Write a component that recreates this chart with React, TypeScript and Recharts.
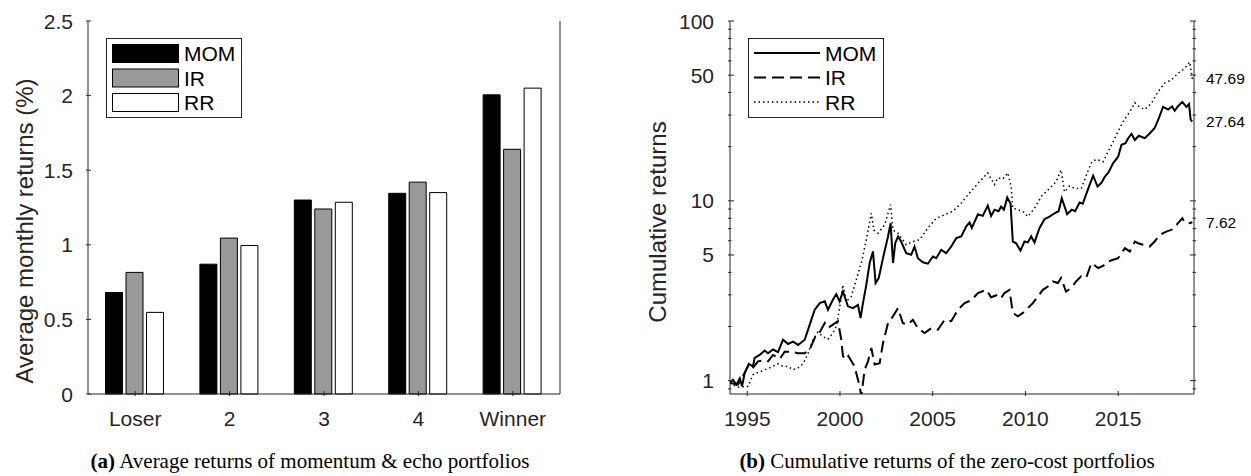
import React from 'react'
import { BarChart, Bar, LineChart, Line, XAxis, YAxis, Legend, Label } from 'recharts'

// panel (a): average monthly returns (%)
const categories = ['Loser', '2', '3', '4', 'Winner']
const momBars = [0.68, 0.87, 1.3, 1.345, 2.005]
const irBars = [0.815, 1.045, 1.24, 1.42, 1.64]
const rrBars = [0.547, 0.995, 1.285, 1.35, 2.05]
const barTicks = [0, 0.5, 1, 1.5, 2, 2.5]
const seriesOrder = ['MOM', 'IR', 'RR']

// panel (b): cumulative returns, [year, value]
const momPath: [number, number][] = [
  [1994.06, 0.97], [1994.23, 1.01], [1994.41, 0.95], [1994.6, 1.03], [1994.72, 0.93], [1994.86, 1.1],
  [1995.08, 1.24], [1995.31, 1.2], [1995.4, 1.34], [1995.67, 1.39], [1995.94, 1.47], [1996.12, 1.42],
  [1996.39, 1.49], [1996.66, 1.44], [1996.93, 1.69], [1997.2, 1.6], [1997.47, 1.65], [1997.74, 1.58],
  [1998.1, 1.69], [1998.37, 2.05], [1998.64, 2.48], [1998.91, 2.7], [1999.18, 2.76], [1999.35, 2.48],
  [1999.62, 2.82], [1999.8, 3.03], [1999.98, 2.76], [2000.16, 3.13], [2000.43, 2.59], [2000.7, 2.53],
  [2000.97, 2.64], [2001.11, 2.23], [2001.24, 2.7], [2001.42, 3.41], [2001.6, 4.51], [2001.78, 5.23],
  [2001.92, 3.49], [2002.09, 3.72], [2002.32, 4.8], [2002.59, 6.34], [2002.73, 7.51], [2002.86, 4.51],
  [2002.98, 5.81], [2003.13, 6.34], [2003.3, 5.94], [2003.57, 5.12], [2003.84, 5.01], [2004.02, 5.57],
  [2004.2, 4.8], [2004.47, 4.55], [2004.74, 4.47], [2005.01, 4.9], [2005.19, 4.8], [2005.46, 5.34],
  [2005.73, 5.12], [2006.0, 5.57], [2006.27, 6.2], [2006.54, 6.34], [2006.81, 7.21], [2006.99, 7.58],
  [2007.11, 7.06], [2007.44, 8.42], [2007.7, 8.25], [2007.97, 9.41], [2008.15, 8.25], [2008.33, 8.93],
  [2008.55, 8.75], [2008.69, 9.3], [2008.84, 8.93], [2009.02, 10.45], [2009.2, 9.63], [2009.32, 5.94],
  [2009.5, 5.81], [2009.73, 5.29], [2009.95, 5.94], [2010.13, 5.87], [2010.31, 6.34], [2010.49, 5.87],
  [2010.76, 7.06], [2011.03, 7.91], [2011.3, 8.17], [2011.57, 8.53], [2011.79, 8.75], [2011.96, 10.33],
  [2012.25, 8.44], [2012.5, 8.93], [2012.68, 8.75], [2012.92, 9.79], [2013.09, 9.63], [2013.36, 11.5],
  [2013.65, 13.8], [2013.89, 12.0], [2014.1, 12.6], [2014.28, 13.6], [2014.5, 14.5], [2014.73, 16.2],
  [2015.0, 17.6], [2015.18, 20.5], [2015.4, 20.9], [2015.54, 22.3], [2015.72, 23.6], [2015.9, 21.8],
  [2016.11, 23.0], [2016.43, 22.3], [2016.7, 23.7], [2016.97, 25.4], [2017.19, 28.7], [2017.42, 33.3],
  [2017.69, 32.2], [2017.91, 33.5], [2018.05, 31.7], [2018.23, 33.6], [2018.46, 35.5], [2018.68, 33.3],
  [2018.82, 34.5], [2018.91, 28.2], [2019.0, 27.64],
]

const irPath: [number, number][] = [
  [1994.06, 0.97], [1994.5, 0.95], [1994.77, 1.06], [1995.04, 1.2], [1995.22, 1.15], [1995.58, 1.28],
  [1995.94, 1.3], [1996.12, 1.28], [1996.39, 1.39], [1996.75, 1.32], [1997.02, 1.45], [1997.38, 1.45],
  [1997.74, 1.42], [1998.1, 1.42], [1998.37, 1.49], [1998.64, 1.73], [1998.91, 1.86], [1999.18, 2.09],
  [1999.35, 1.96], [1999.62, 2.05], [1999.89, 2.14], [2000.07, 1.69], [2000.16, 1.37], [2000.34, 1.31],
  [2000.45, 1.37], [2000.79, 1.2], [2001.06, 0.93], [2001.15, 0.82], [2001.33, 1.15], [2001.51, 1.28],
  [2001.69, 1.52], [2001.87, 1.23], [2002.14, 1.25], [2002.32, 1.62], [2002.59, 2.09], [2002.86, 2.28],
  [2003.13, 2.53], [2003.39, 2.09], [2003.66, 2.05], [2003.93, 2.18], [2004.2, 1.96], [2004.56, 1.84],
  [2004.93, 1.96], [2005.28, 1.92], [2005.64, 2.18], [2006.0, 2.14], [2006.36, 2.48], [2006.72, 2.7],
  [2007.08, 2.8], [2007.44, 3.07], [2007.89, 3.2], [2008.15, 2.91], [2008.51, 3.0], [2008.69, 2.88],
  [2008.87, 3.07], [2009.14, 3.2], [2009.32, 2.38], [2009.59, 2.28], [2009.86, 2.38], [2010.13, 2.53],
  [2010.4, 2.7], [2010.67, 2.94], [2010.94, 3.2], [2011.21, 3.34], [2011.48, 3.56], [2011.75, 3.49],
  [2011.92, 3.72], [2012.19, 3.13], [2012.46, 3.27], [2012.73, 3.56], [2013.0, 3.8], [2013.27, 3.72],
  [2013.56, 4.51], [2013.92, 4.23], [2014.19, 4.35], [2014.46, 4.6], [2014.73, 4.7], [2015.0, 4.8],
  [2015.36, 5.46], [2015.63, 5.23], [2015.9, 5.94], [2016.08, 5.81], [2016.34, 5.7], [2016.7, 5.57],
  [2016.97, 5.94], [2017.24, 6.47], [2017.6, 6.74], [2017.95, 6.95], [2018.23, 7.51], [2018.46, 8.01],
  [2018.59, 7.58], [2018.86, 7.51], [2019.0, 7.62],
]

const rrPath: [number, number][] = [
  [1994.06, 0.97], [1994.5, 0.92], [1995.05, 0.93], [1995.31, 1.08], [1995.58, 1.11], [1995.94, 1.15],
  [1996.3, 1.19], [1996.66, 1.24], [1996.93, 1.2], [1997.2, 1.2], [1997.47, 1.15], [1997.74, 1.18],
  [1998.01, 1.24], [1998.28, 1.42], [1998.55, 1.69], [1998.81, 1.86], [1999.08, 1.76], [1999.35, 1.7],
  [1999.62, 1.84], [1999.8, 2.0], [1999.98, 2.53], [2000.16, 3.41], [2000.34, 2.75], [2000.61, 2.94],
  [2000.88, 3.64], [2001.15, 4.51], [2001.42, 6.07], [2001.69, 8.53], [2001.83, 6.88], [2002.05, 6.61],
  [2002.41, 7.36], [2002.73, 9.51], [2002.86, 6.88], [2003.13, 6.61], [2003.57, 5.7], [2003.93, 5.94],
  [2004.29, 6.07], [2004.74, 7.06], [2005.19, 8.01], [2005.64, 8.36], [2006.09, 8.75], [2006.54, 9.72],
  [2006.9, 10.8], [2007.44, 12.5], [2007.97, 14.3], [2008.33, 12.3], [2008.51, 13.4], [2008.78, 13.2],
  [2009.05, 14.3], [2009.23, 12.0], [2009.32, 9.1], [2009.59, 8.93], [2009.86, 8.75], [2010.13, 8.17],
  [2010.49, 9.1], [2010.86, 10.6], [2011.3, 11.7], [2011.66, 12.8], [2011.92, 14.9], [2012.11, 11.2],
  [2012.38, 12.1], [2012.68, 11.7], [2013.01, 11.7], [2013.33, 14.3], [2013.58, 16.5], [2013.83, 17.0],
  [2014.19, 16.5], [2014.55, 19.6], [2014.91, 23.3], [2015.27, 27.6], [2015.63, 31.3], [2015.9, 35.1],
  [2016.16, 33.2], [2016.43, 32.2], [2016.79, 34.8], [2017.15, 40.4], [2017.51, 45.2], [2017.87, 47.0],
  [2018.23, 51.2], [2018.59, 54.6], [2018.86, 59.2], [2019.0, 47.69],
]

const yearTicks = [1995, 2000, 2005, 2010, 2015]
const logTicks = [0.9, 1, 2, 3, 4, 5, 6, 7, 8, 9, 10, 20, 30, 40, 50, 60, 70, 80, 90, 100]
const logLabels = [1, 5, 10, 50, 100]
const endLabels = [7.62, 27.64, 47.69]

const barData = categories.map((name, i) => ({ name, MOM: momBars[i], IR: irBars[i], RR: rrBars[i] }))
const toPoints = (p: [number, number][]) => p.map(([year, value]) => ({ year, value }))

const AXIS = '#262626'
const SANS = '"Liberation Sans", Arial, Helvetica, sans-serif'
const SERIF = '"Liberation Serif", "Times New Roman", serif'

const barStyle: Record<string, { fill: string }> = {
  MOM: { fill: '#000000' },
  IR: { fill: '#999999' },
  RR: { fill: '#ffffff' },
}
const lineStyle: Record<string, { dash?: string; width: number }> = {
  MOM: { width: 2 },
  IR: { dash: '12 6', width: 2 },
  RR: { dash: '1.5 3', width: 1.5 },
}

const tickText = { fontFamily: SANS, fontSize: 21, fill: AXIS }

const ordered = (payload: any[] = []) =>
  [...payload].sort((a, b) => seriesOrder.indexOf(a.value) - seriesOrder.indexOf(b.value))

function BarLegend({ payload }: any) {
  return (
    <svg width={136} height={80} style={{ display: 'block' }}>
      <rect x={0.5} y={0.5} width={135} height={79} fill="#fff" stroke={AXIS} />
      {ordered(payload).map((p: any, i: number) => {
        const cy = 15.5 + i * 24.5
        return (
          <g key={p.value}>
            <rect x={6.5} y={cy - 9} width={66} height={18} fill={barStyle[p.value].fill} stroke="#000" />
            <text x={78} y={cy} dominantBaseline="central" style={{ ...tickText, fill: '#000' }}>{p.value}</text>
          </g>
        )
      })}
    </svg>
  )
}

function LineLegend({ payload }: any) {
  return (
    <svg width={136} height={80} style={{ display: 'block' }}>
      <rect x={0.5} y={0.5} width={135} height={79} fill="#fff" stroke={AXIS} />
      {ordered(payload).map((p: any, i: number) => {
        const cy = 15 + i * 24.5
        const s = lineStyle[p.value]
        return (
          <g key={p.value}>
            <line x1={6} x2={72} y1={cy} y2={cy} stroke="#000" strokeWidth={s.width} strokeDasharray={s.dash} />
            <text x={77} y={cy} dominantBaseline="central" style={{ ...tickText, fill: '#000' }}>{p.value}</text>
          </g>
        )
      })}
    </svg>
  )
}

function AxisTitle({ x, y, text }: { x: number; y: number; text: string }) {
  return (
    <text
      x={x}
      y={y}
      transform={`rotate(-90 ${x} ${y})`}
      textAnchor="middle"
      dominantBaseline="central"
      style={{ fontFamily: SANS, fontSize: 24, fill: AXIS }}
    >
      {text}
    </text>
  )
}

const captionStyle: React.CSSProperties = {
  position: 'absolute', top: 449, textAlign: 'center',
  fontFamily: SERIF, fontSize: 21, lineHeight: '24px', color: '#000', whiteSpace: 'nowrap',
}

export default function App() {
  return (
    <div style={{ position: 'relative', width: 1251, height: 476, background: '#fff', overflow: 'hidden' }}>
      <style>{'body{margin:0}'}</style>

      <div style={{ position: 'absolute', left: 0, top: 0 }}>
        <BarChart
          width={620}
          height={476}
          data={barData}
          margin={{ top: 21, right: 0, bottom: 0, left: 0 }}
          barCategoryGap={17.5}
          barGap={3.5}
        >
          <XAxis
            dataKey="name"
            height={82}
            interval={0}
            tickSize={0}
            stroke={AXIS}
            tick={({ x, y, payload }: any) => (
              <g>
                <line x1={x} x2={x} y1={y} y2={y - 5} stroke={AXIS} />
                <text x={x} y={y + 30} textAnchor="middle" style={tickText}>{payload.value}</text>
              </g>
            )}
          />
          <XAxis
            xAxisId="top"
            orientation="top"
            dataKey="name"
            height={0}
            interval={0}
            tickSize={0}
            stroke={AXIS}
            tick={({ x, y }: any) => <line x1={x} x2={x} y1={y} y2={y + 5} stroke={AXIS} />}
          />
          <YAxis
            width={88}
            domain={[0, 2.5]}
            ticks={barTicks}
            interval={0}
            tickSize={0}
            stroke={AXIS}
            tick={({ x, y, payload }: any) => (
              <g>
                <line x1={x} x2={x + 5} y1={y} y2={y} stroke={AXIS} />
                <text x={x - 13} y={y} textAnchor="end" dominantBaseline="central" style={tickText}>{payload.value}</text>
              </g>
            )}
          >
            <Label content={() => <AxisTitle x={24} y={231} text="Average monthly returns (%)" />} />
          </YAxis>
          <YAxis
            yAxisId="right"
            orientation="right"
            width={60}
            domain={[0, 2.5]}
            ticks={barTicks}
            interval={0}
            tickSize={0}
            stroke={AXIS}
            tick={({ x, y }: any) => <line x1={x} x2={x - 5} y1={y} y2={y} stroke={AXIS} />}
          />
          <Legend
            layout="vertical"
            align="center"
            verticalAlign="middle"
            content={<BarLegend />}
            wrapperStyle={{ left: 106, top: 38, width: 136, height: 80 }}
          />
          <Bar dataKey="MOM" fill={barStyle.MOM.fill} stroke="#000" strokeWidth={1} isAnimationActive={false} />
          <Bar dataKey="IR" fill={barStyle.IR.fill} stroke="#000" strokeWidth={1} isAnimationActive={false} />
          <Bar dataKey="RR" fill={barStyle.RR.fill} stroke="#000" strokeWidth={1} isAnimationActive={false} />
        </BarChart>
      </div>

      <div style={{ position: 'absolute', left: 620, top: 0 }}>
        <LineChart width={631} height={476} margin={{ top: 21, right: 0, bottom: 0, left: 0 }}>
          <XAxis
            dataKey="year"
            type="number"
            domain={[1994.07, 2019.09]}
            allowDataOverflow
            ticks={yearTicks}
            height={82}
            interval={0}
            tickSize={0}
            stroke={AXIS}
            tick={({ x, y, payload }: any) => (
              <g>
                <line x1={x} x2={x} y1={y} y2={y - 5} stroke={AXIS} />
                <text x={x} y={y + 30} textAnchor="middle" style={tickText}>{payload.value}</text>
              </g>
            )}
          />
          <XAxis
            xAxisId="top"
            orientation="top"
            dataKey="year"
            type="number"
            domain={[1994.07, 2019.09]}
            allowDataOverflow
            ticks={yearTicks}
            height={0}
            interval={0}
            tickSize={0}
            stroke={AXIS}
            tick={({ x, y }: any) => <line x1={x} x2={x} y1={y} y2={y + 5} stroke={AXIS} />}
          />
          <YAxis
            type="number"
            scale="log"
            domain={[0.843, 100]}
            allowDataOverflow
            ticks={logTicks}
            width={110}
            interval={0}
            tickSize={0}
            stroke={AXIS}
            tick={({ x, y, payload }: any) => {
              const major = logLabels.includes(payload.value)
              return (
                <g>
                  <line x1={x} x2={x + (major ? 6 : 3.5)} y1={y} y2={y} stroke={AXIS} />
                  {major && (
                    <text x={x - 14} y={y} textAnchor="end" dominantBaseline="central" style={tickText}>{payload.value}</text>
                  )}
                </g>
              )
            }}
          >
            <Label content={() => <AxisTitle x={37} y={222} text="Cumulative returns" />} />
          </YAxis>
          <YAxis
            yAxisId="right"
            orientation="right"
            type="number"
            scale="log"
            domain={[0.843, 100]}
            allowDataOverflow
            ticks={[...logTicks, ...endLabels].sort((a, b) => a - b)}
            width={57}
            interval={0}
            tickSize={0}
            stroke={AXIS}
            tick={({ x, y, payload }: any) => {
              if (endLabels.includes(payload.value)) {
                return (
                  <text x={x + 10} y={y} dominantBaseline="central" style={{ ...tickText, fontSize: 15.5, fill: '#000' }}>
                    {payload.value.toFixed(2)}
                  </text>
                )
              }
              const major = logLabels.includes(payload.value)
              return <line x1={x} x2={x - (major ? 6 : 3.5)} y1={y} y2={y} stroke={AXIS} />
            }}
          />
          <Legend
            layout="vertical"
            align="center"
            verticalAlign="middle"
            content={<LineLegend />}
            wrapperStyle={{ left: 128, top: 38, width: 136, height: 80 }}
          />
          <Line
            name="MOM"
            data={toPoints(momPath)}
            dataKey="value"
            stroke="#000"
            strokeWidth={lineStyle.MOM.width}
            dot={false}
            activeDot={false}
            isAnimationActive={false}
          />
          <Line
            name="IR"
            data={toPoints(irPath)}
            dataKey="value"
            stroke="#000"
            strokeWidth={lineStyle.IR.width}
            strokeDasharray={lineStyle.IR.dash}
            dot={false}
            activeDot={false}
            isAnimationActive={false}
          />
          <Line
            name="RR"
            data={toPoints(rrPath)}
            dataKey="value"
            stroke="#000"
            strokeWidth={lineStyle.RR.width}
            strokeDasharray={lineStyle.RR.dash}
            dot={false}
            activeDot={false}
            isAnimationActive={false}
          />
        </LineChart>
      </div>

      <div style={{ ...captionStyle, left: 90, width: 440 }}>
        <b>(a)</b> Average returns of momentum &amp; echo portfolios
      </div>
      <div style={{ ...captionStyle, left: 736, width: 422 }}>
        <b>(b)</b> Cumulative returns of the zero-cost portfolios
      </div>
    </div>
  )
}
